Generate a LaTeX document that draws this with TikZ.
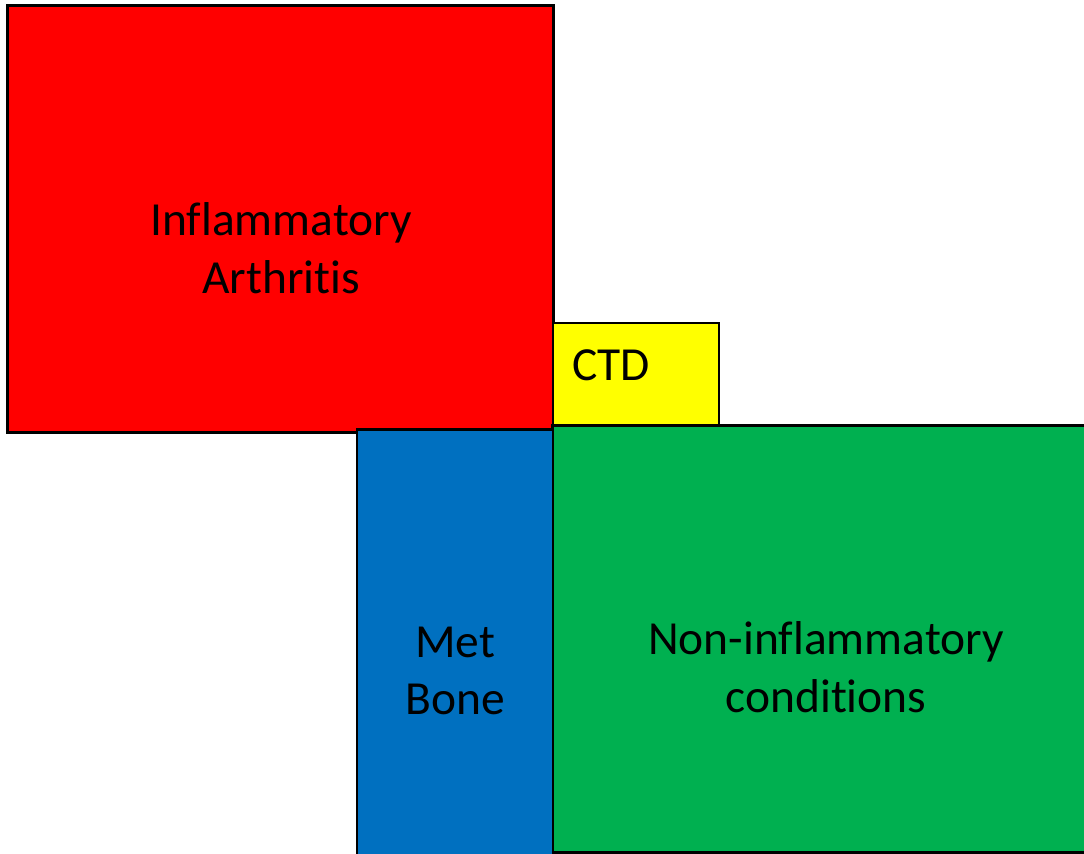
\documentclass[tikz,border=0pt]{standalone}
\usepackage{fontspec}
\setmainfont{Carlito}[Ligatures=NoCommon]
\usepackage{xcolor}
\usepackage{tikz}

\definecolor{iared}{HTML}{FF0000}
\definecolor{ctdyellow}{HTML}{FFFF00}
\definecolor{metblue}{HTML}{0070C0}
\definecolor{nongreen}{HTML}{00B050}

\begin{document}
\begin{tikzpicture}[x=0.01cm, y=-0.01cm,
        box/.style={rectangle, draw=black, line width=0.8pt, inner sep=0pt},
        lbl/.style={align=center, inner sep=0pt,
            font=\fontsize{13.5}{16.4}\selectfont}]

        \useasboundingbox (0,0) rectangle (1084,853);

        \node[box, fill=iared, minimum width=5.45cm, minimum height=4.26cm]
            (IA) at (280.5,219) {};
        \node[box, fill=ctdyellow, minimum width=1.66cm, minimum height=1.04cm]
            (CTD) at (636,375) {};
        \node[box, fill=nongreen, minimum width=5.50cm, minimum height=4.26cm]
            (NI) at (828,639) {};
        \node[box, fill=metblue, minimum width=1.96cm, minimum height=4.26cm]
            (MB) at (455,643) {};

        \node[lbl] (IAtext) at (281,248) {Inflammatory\\Arthritis};
        \node[lbl] (CTDtext) at (611,365) {CTD};
        \node[lbl] (MBtext) at (455,671) {Met\\Bone};
        \node[lbl] (NItext) at (826,667) {Non-inflammatory\\conditions};
    \end{tikzpicture}
\end{document}
